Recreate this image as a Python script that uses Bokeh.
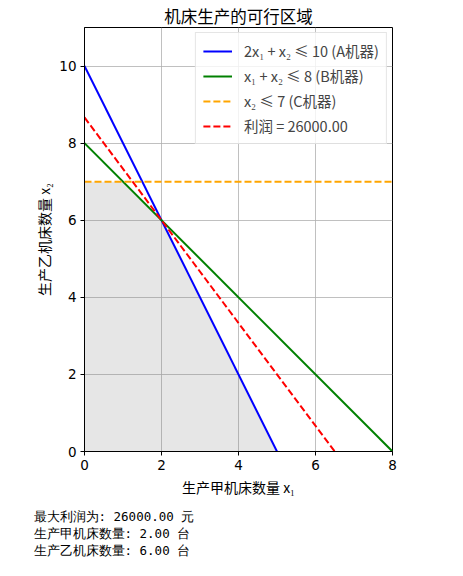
from bokeh.plotting import figure
from bokeh.models import Legend, LegendItem, FixedTicker, Title
from bokeh.embed import file_html
from bokeh.resources import INLINE

# constraint lines (x1 endpoints and x2 values)
a_x = [0, 5]
a_y = [10, 0]
b_x = [0, 8]
b_y = [8, 0]
c_x = [0, 8]
c_y = [7, 7]
profit_x = [0, 6.5]
profit_y = [26000 / 3000, 0]
region_x = [0, 0, 1, 2, 5]
region_y = [0, 7, 7, 6, 0]
labels = ["2x₁ + x₂ ≤ 10 (A机器)", "x₁ + x₂ ≤ 8 (B机器)", "x₂ ≤ 7 (C机器)", "利润 = 26000.00"]
summary = ["最大利润为: 26000.00 元", "生产甲机床数量: 2.00 台", "生产乙机床数量: 6.00 台"]
xticks = [0, 2, 4, 6, 8]
yticks = [0, 2, 4, 6, 8, 10]

CJK = "Noto Sans CJK SC"

p = figure(width=463, height=576, x_range=(0, 8), y_range=(0, 11),
           output_backend="svg", toolbar_location=None,
           min_border_left=84, min_border_right=71, min_border_top=27, min_border_bottom=125)
p.title.text = "机床生产的可行区域"
p.title.align = "center"
p.title.text_font = CJK
p.title.text_font_size = "16.5px"
p.title.text_font_style = "normal"
p.title.text_color = "black"
p.title.standoff = 0
p.outline_line_color = "black"
p.outline_line_width = 1
p.background_fill_color = "white"
p.border_fill_color = "white"

for g in (p.xgrid, p.ygrid):
    g.grid_line_color = "#b0b0b0"
    g.grid_line_width = 0.8

p.xaxis.ticker = FixedTicker(ticks=xticks)
p.yaxis.ticker = FixedTicker(ticks=yticks)
for ax in (p.xaxis, p.yaxis):
    ax.minor_tick_line_color = None
    ax.major_tick_in = 0
    ax.major_tick_out = 4
    ax.major_tick_line_color = "black"
    ax.axis_line_color = "black"
    ax.major_label_text_font = "DejaVu Sans"
    ax.major_label_text_font_size = "13.5px"
    ax.major_label_text_color = "black"
    ax.axis_label_text_font = CJK
    ax.axis_label_text_font_size = "14px"
    ax.axis_label_text_font_style = "normal"
    ax.axis_label_text_color = "black"
    ax.major_label_standoff = 4
p.xaxis.axis_label = "生产甲机床数量 x₁"
p.yaxis.axis_label = "生产乙机床数量 x₂"
p.xaxis.axis_label_standoff = 4
p.yaxis.axis_label_standoff = 2

p.patch(region_x, region_y, fill_color="gray", fill_alpha=0.2, line_color=None)
r1 = p.line(a_x, a_y, line_color="blue", line_width=2)
r2 = p.line(b_x, b_y, line_color="green", line_width=2)
r3 = p.line(c_x, c_y, line_color="orange", line_width=2, line_dash="7 3")
r4 = p.line(profit_x, profit_y, line_color="red", line_width=2, line_dash="7 3")

legend = Legend(items=[LegendItem(label=labels[i], renderers=[r]) for i, r in enumerate([r1, r2, r3, r4])],
                location="top_right")
legend.label_text_font = CJK
legend.label_text_font_size = "14.5px"
legend.glyph_width = 29
legend.glyph_height = 20
legend.label_height = 20
legend.spacing = 4
legend.padding = 7
legend.margin = 5
legend.label_standoff = 12
legend.border_line_color = "#cccccc"
legend.border_line_width = 1
legend.background_fill_alpha = 0.8
p.add_layout(legend)

t = Title(text="\n".join(summary), align="left", text_font="DejaVu Sans Mono", text_font_size="12.5px",
          text_font_style="normal", text_color="black", offset=-51, standoff=13,
          text_line_height=1.15)
p.add_layout(t, "below")

open("out.html", "w").write(file_html(p, INLINE))
